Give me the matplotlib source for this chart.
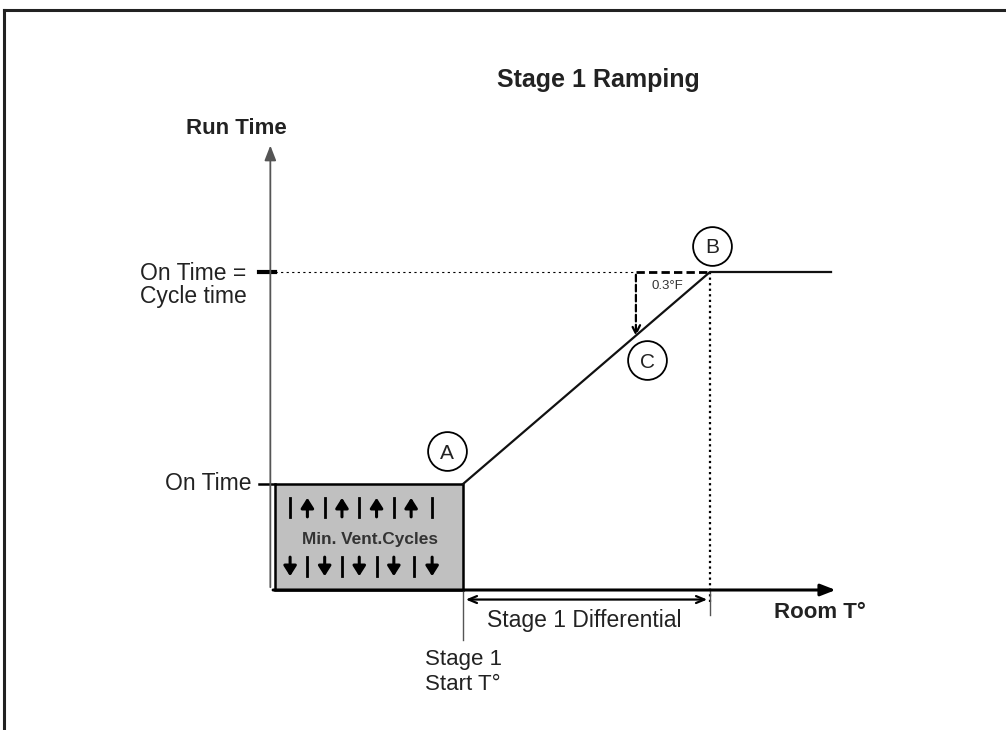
import matplotlib
matplotlib.use("Agg")
import matplotlib.pyplot as plt
from matplotlib.patches import Rectangle

plt.rcParams['font.family'] = ['Liberation Sans', 'DejaVu Sans']

# diagram values (x: room temperature in F relative to stage 1 start, y: run time units)
start_t = 0.0
differential = 1.0
step = 0.3
on_time = 1.0
cycle_time = 3.0
x_end = 1.49
ramp_x = [start_t, start_t + differential, x_end]
ramp_y = [on_time, cycle_time, cycle_time]
box_left = -0.76
axis_x = -0.78
axis_top = 4.22
axis_right = 1.52
up_arrows = [-0.63, -0.49, -0.35, -0.21]
up_bars = [-0.70, -0.56, -0.42, -0.28, -0.125]
down_arrows = [-0.70, -0.56, -0.42, -0.28, -0.125]
down_bars = [-0.63, -0.49, -0.35, -0.20]
points = {'A': (-0.065, 1.31), 'B': (1.008, 3.25), 'C': (0.745, 2.17)}

fig = plt.figure(figsize=(10.06, 7.30), dpi=100)
ax = fig.add_axes([0, 0, 1, 1])
# pixel mapping: px = 463 + 247*x, py = 590 - 106*y
ax.set_xlim(-463 / 247, (1006 - 463) / 247)
ax.set_ylim(-140 / 106, 590 / 106)
ax.axis('off')

# frame (top and left only)
fig.add_artist(plt.Line2D([0.004, 1.0], [1 - 10 / 730, 1 - 10 / 730], color='#222222', lw=2.2))
fig.add_artist(plt.Line2D([0.004, 0.004], [0, 1 - 10 / 730], color='#222222', lw=2.2))

# axes arrows
ax.annotate('', xy=(axis_x, axis_top), xytext=(axis_x, 0),
            arrowprops=dict(arrowstyle='-|>,head_length=0.9,head_width=0.35', color='#555555', lw=1.3))
ax.annotate('', xy=(axis_right, 0), xytext=(axis_x, 0),
            arrowprops=dict(arrowstyle='-|>,head_length=0.9,head_width=0.35', color='black', lw=2.2))

# min vent box
ax.add_patch(Rectangle((box_left, 0), start_t - box_left, on_time, facecolor='#c0c0c0',
                       edgecolor='black', lw=1.8, zorder=2))
arrow_style = dict(arrowstyle='-|>,head_length=0.6,head_width=0.38', color='black', lw=2.2,
                   shrinkA=0, shrinkB=0)
for xa in up_arrows:
    ax.annotate('', xy=(xa, 0.87), xytext=(xa, 0.69), arrowprops=arrow_style, zorder=3)
for xb in up_bars:
    ax.plot([xb, xb], [0.69, 0.87], color='black', lw=2, zorder=3)
for xa in down_arrows:
    ax.annotate('', xy=(xa, 0.13), xytext=(xa, 0.31), arrowprops=arrow_style, zorder=3)
for xb in down_bars:
    ax.plot([xb, xb], [0.13, 0.31], color='black', lw=2, zorder=3)
ax.text((box_left + start_t) / 2 + 0.005, 0.48, 'Min. Vent.Cycles', ha='center', va='center',
        fontsize=12.4, fontweight='bold', color='#333333', zorder=3)

# ramp
ax.plot(ramp_x, ramp_y, color='#111111', lw=1.6, zorder=4)
ax.plot([axis_x - 0.045, box_left], [on_time, on_time], color='black', lw=1.8)
ax.plot([axis_x - 0.045, axis_x + 0.02], [cycle_time, cycle_time], color='black', lw=3)
ax.plot([axis_x + 0.02, start_t + differential - step], [cycle_time, cycle_time],
        color='black', lw=0.8, ls=(0, (2, 3)))
ax.plot([start_t + differential - step, start_t + differential], [cycle_time, cycle_time],
        color='black', lw=2, ls=(0, (3, 1.5)))
ax.plot([start_t + differential, start_t + differential], [cycle_time, -0.14],
        color='black', lw=1.6, ls=(0, (1, 1.5)))
ax.annotate('', xy=(start_t + differential - step, on_time + 2 * (differential - step) - 0.03),
            xytext=(start_t + differential - step, cycle_time),
            arrowprops=dict(arrowstyle='->,head_length=0.6,head_width=0.3', color='black', lw=1.6,
                            linestyle=(0, (3, 1.5))))
ax.text(start_t + differential - step + 0.065, cycle_time - 0.13, '0.3°F', fontsize=9.5,
        ha='left', va='center', color='#333333')

# point labels
for name, (px, py) in points.items():
    ax.scatter([px], [py], s=780, facecolors='white', edgecolors='black', linewidths=1.3, zorder=5)
    ax.text(px, py - 0.02, name, ha='center', va='center', fontsize=15, color='#222222', zorder=6)

# stage 1 differential
ax.plot([start_t, start_t], [0, -0.47], color='#555555', lw=1.0)
ax.plot([start_t + differential, start_t + differential], [0, -0.24], color='#555555', lw=1.0)
ax.annotate('', xy=(start_t, -0.09), xytext=(start_t + differential, -0.09),
            arrowprops=dict(arrowstyle='<->,head_length=0.6,head_width=0.25', color='black', lw=1.6))
ax.text((start_t + start_t + differential) / 2 - 0.01, -0.285, 'Stage 1 Differential', ha='center',
        va='center', fontsize=16.5, color='#222222')

# texts
fig.text(598 / 1006, 1 - 80 / 730, 'Stage 1 Ramping', ha='center', va='center', fontsize=18,
         fontweight='bold', color='#222222')
fig.text(236 / 1006, 1 - 128 / 730, 'Run Time', ha='center', va='center', fontsize=16,
         fontweight='bold', color='#222222')
fig.text(140 / 1006, 1 - 273 / 730, 'On Time =', ha='left', va='center', fontsize=16.5, color='#222222')
fig.text(140 / 1006, 1 - 297 / 730, 'Cycle time', ha='left', va='center', fontsize=16.5, color='#222222')
fig.text(252 / 1006, 1 - 483 / 730, 'On Time', ha='right', va='center', fontsize=16.5, color='#222222')
fig.text(820 / 1006, 1 - 613 / 730, 'Room T°', ha='center', va='center', fontsize=16,
         fontweight='bold', color='#222222')
fig.text(425 / 1006, 1 - 660 / 730, 'Stage 1', ha='left', va='center', fontsize=16, color='#222222')
fig.text(425 / 1006, 1 - 684 / 730, 'Start T°', ha='left', va='center', fontsize=16, color='#222222')

fig.savefig('out.png', dpi=100, facecolor='white')
